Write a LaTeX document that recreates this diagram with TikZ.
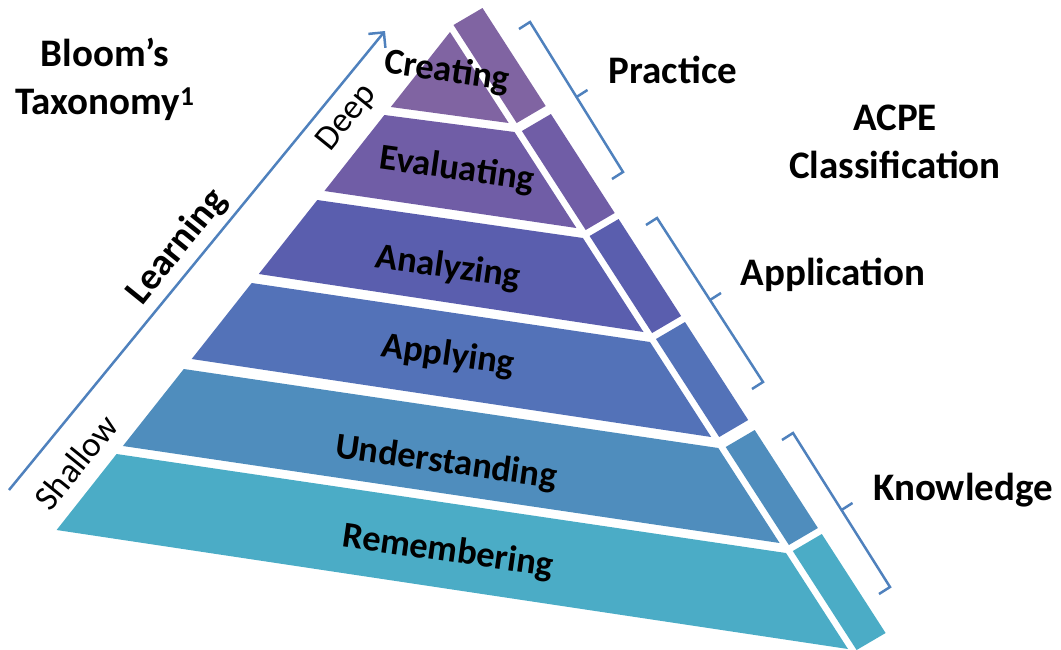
\documentclass[tikz,border=0pt]{standalone}
\usepackage{fontspec}
\setmainfont{Carlito}
\usetikzlibrary{arrows.meta}
\definecolor{creatingc}{HTML}{8064A2}
\definecolor{evaluatingc}{HTML}{705DA6}
\definecolor{analyzingc}{HTML}{5A5EAE}
\definecolor{applyingc}{HTML}{5372B8}
\definecolor{understandingc}{HTML}{4F8DBD}
\definecolor{rememberingc}{HTML}{4BACC6}
\definecolor{acpeblue}{HTML}{4F81BD}

\begin{document}
\begin{tikzpicture}[x=1pt,y=-1pt]
      \tikzset{levelname/.style = {font=\fontsize{36.5}{36}\selectfont\bfseries, rotate=-8}}
      \tikzset{heading/.style = {font=\fontsize{39}{48}\selectfont\bfseries, align=center}}
      \tikzset{depth/.style = {font=\fontsize{35}{35}\selectfont, rotate=51}}
      \tikzset{acpebrace/.style = {draw=acpeblue, line width=2.5pt}}
      \tikzset{learnarrow/.style = {draw=acpeblue, line width=2.5pt, -{Straight Barb[length=11pt,width=22pt]}}}
      \useasboundingbox (0,0) rectangle (1061,649);
      % front faces
      \fill[creatingc] (450,32) -- (390.8,107) -- (508.7,123) -- cycle;
      \fill[evaluatingc] (384.4,115) -- (514.5,132) -- (576.4,228) -- (324.4,191) -- cycle;
      \fill[analyzingc] (317.3,200) -- (582.9,238) -- (643.5,332) -- (258.8,274) -- cycle;
      \fill[applyingc] (251.7,283) -- (650,342) -- (711.2,437) -- (191.7,359) -- cycle;
      \fill[understandingc] (183.8,369) -- (718.3,448) -- (779.6,543) -- (122.9,446) -- cycle;
      \fill[rememberingc] (116.6,454) -- (786,553) -- (848,649) -- (56.6,530) -- cycle;
      % side faces
      \fill[creatingc] (453.5,25) -- (482.5,8) -- (545.7,106) -- (516.7,123) -- cycle;
      \fill[evaluatingc] (521.9,131) -- (550.9,114) -- (614.7,213) -- (585.7,230) -- cycle;
      \fill[analyzingc] (589.6,236) -- (618.6,219) -- (681.1,316) -- (652.1,333) -- cycle;
      \fill[applyingc] (656,339) -- (685,322) -- (748.2,420) -- (719.2,437) -- cycle;
      \fill[understandingc] (725.7,447) -- (754.7,430) -- (817.9,528) -- (788.9,545) -- cycle;
      \fill[rememberingc] (792.8,551) -- (821.8,534) -- (885.6,633) -- (856.6,650) -- cycle;
      \node[levelname] (creating) at (447,72) {Creating};
      \node[levelname] (evaluating) at (457,170) {Evaluating};
      \node[levelname] (analyzing) at (448,268) {Analyzing};
      \node[levelname] (applying) at (448,356) {Applying};
      \node[levelname] (understanding) at (446,463) {Understanding};
      \node[levelname] (remembering) at (448,552) {Remembering};
      \coordinate (shallowend) at (9,490);
      \coordinate (deepend) at (385,31);
      \draw[learnarrow] (shallowend) -- (deepend);
      \node[depth] (shallow) at (76,462) {Shallow};
      \node[depth] (deep) at (347,118) {Deep};
      \node[depth, font=\fontsize{38}{38}\selectfont\bfseries] (learning) at (177,247) {Learning};
      \node[heading] (bloom) at (105,79) {Bloom’s\\Taxonomy\textsuperscript{1}};
      \node[heading] (acpe) at (895,142) {ACPE\\Classification};
      \draw[acpebrace] (519,29) -- (530,22) -- (623,172) -- (612,179);
      \draw[acpebrace] (576.5,97) -- (587.5,90);
      \draw[acpebrace] (646,225) -- (657,218) -- (763,382) -- (752,389);
      \draw[acpebrace] (710,300) -- (721,293);
      \draw[acpebrace] (782,440) -- (793,433) -- (890,587) -- (879,594);
      \draw[acpebrace] (841.5,510) -- (852.5,503);
      \node[heading] (practice) at (673,70) {Practice};
      \node[heading] (application) at (833,275) {Application};
      \node[heading] (knowledge) at (963,490) {Knowledge};
\end{tikzpicture}
\end{document}
